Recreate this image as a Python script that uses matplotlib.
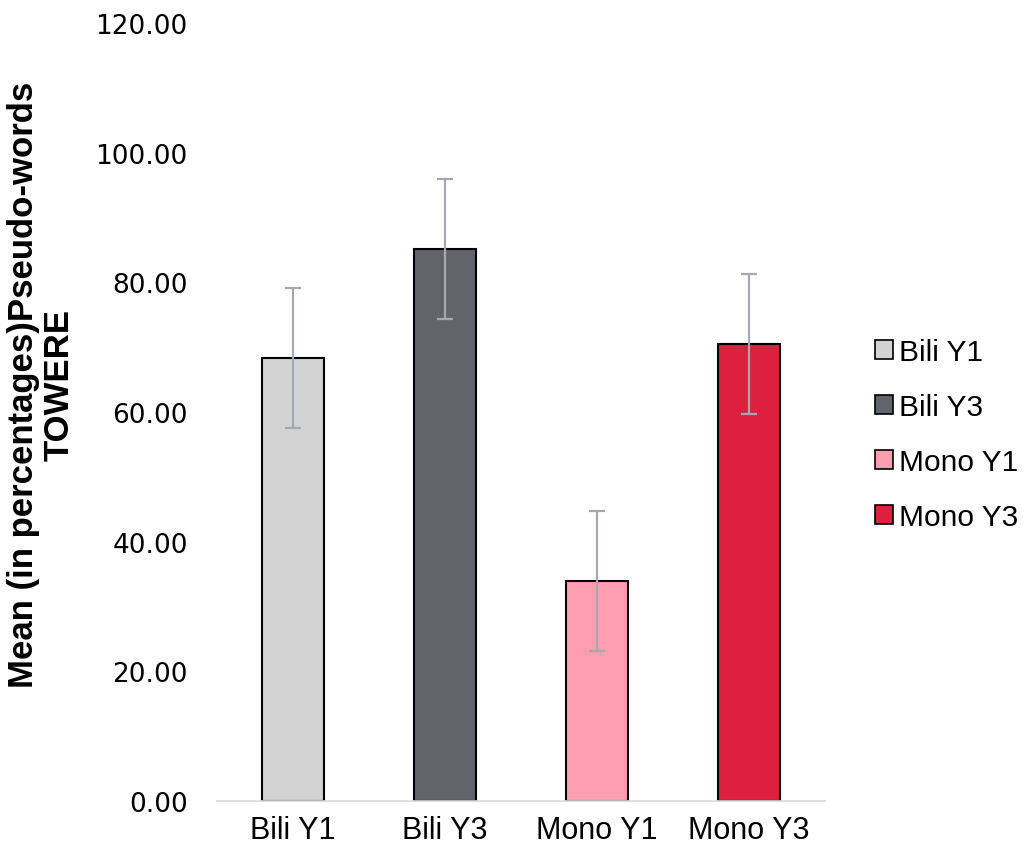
import matplotlib.pyplot as plt
from matplotlib.patches import Patch

groups = ['Bili Y1', 'Bili Y3', 'Mono Y1', 'Mono Y3']
means = [68.3, 85.1, 33.9, 70.5]
errors = [10.8, 10.8, 10.8, 10.8]
colors = ['#D3D3D3', '#62646C', '#FF9EB0', '#DC203E']

plt.rcParams['font.family'] = ['Liberation Sans', 'DejaVu Sans']

fig = plt.figure(figsize=(10.27, 8.54), dpi=100)
ax = fig.add_axes([0.2113, 0.0609, 0.592, 0.911])

x = range(len(groups))
ax.bar(x, means, width=0.41, color=colors, edgecolor='black', linewidth=1.5,
       zorder=2)
ax.errorbar(x, means, yerr=errors, fmt='none', ecolor='#A5A8AE',
            elinewidth=1.6, capsize=6, capthick=1.6, zorder=3)

ax.set_xlim(-0.5, 3.5)
ax.set_ylim(0, 120)
ax.set_yticks(range(0, 121, 20))
ax.set_yticklabels(['%.2f' % v for v in range(0, 121, 20)],
                   family='DejaVu Sans', fontsize=19)
ax.set_xticks(list(x))
ax.set_xticklabels(groups, fontsize=22)
ax.tick_params(length=0)
ax.tick_params(axis='x', pad=10)
ax.tick_params(axis='y', pad=21)

for s in ['top', 'right', 'left']:
    ax.spines[s].set_visible(False)
ax.spines['bottom'].set_color('#D9D9D9')
ax.spines['bottom'].set_linewidth(1.2)

ax.set_ylabel('Mean (in percentages)Pseudo-words\nTOWERE', fontsize=25,
              fontweight='bold', linespacing=1.1)
ax.yaxis.set_label_coords(-0.232, 0.536)

handles = [Patch(facecolor=c, edgecolor='black', linewidth=1.2) for c in colors]
fig.legend(handles, groups, loc='center left', bbox_to_anchor=(0.826, 0.49),
           frameon=False, fontsize=21.5, handlelength=0.6, handleheight=0.6,
           handletextpad=0.2, labelspacing=0.9)

fig.savefig('out.png', dpi=100)
